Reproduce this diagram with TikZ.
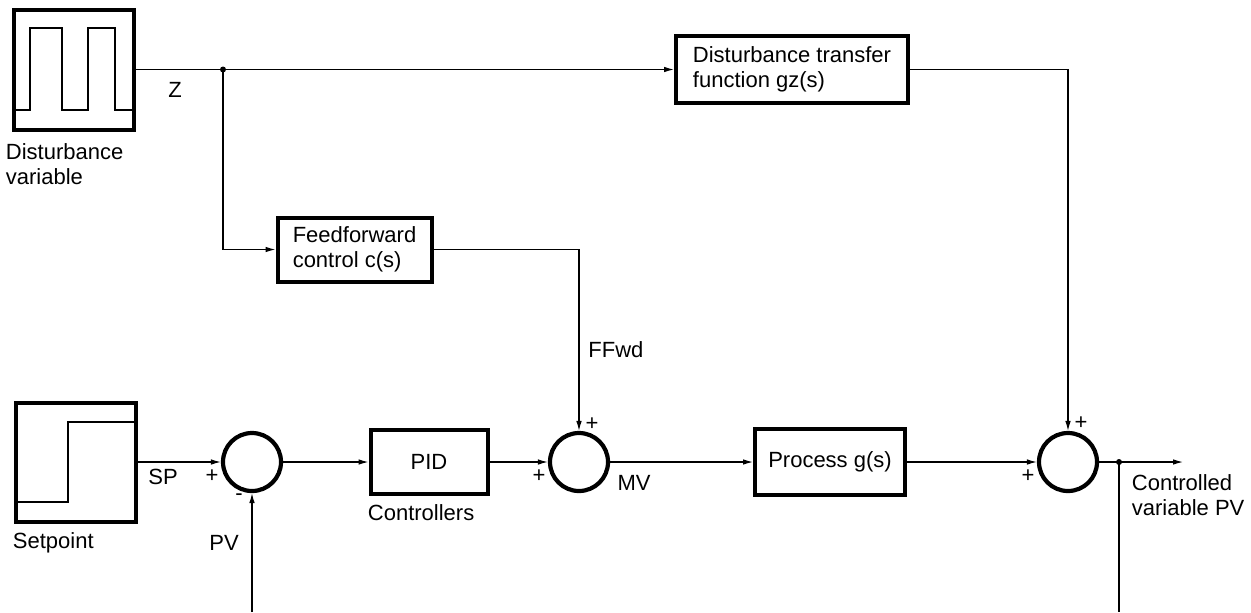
\documentclass[tikz,border=0pt]{standalone}
\usepackage{fontspec}
\setmainfont{Liberation Sans}
\usetikzlibrary{arrows.meta}
\begin{document}
\begin{tikzpicture}[x=0.5pt,y=-0.5pt,
  every node/.style={font=\fontsize{11}{12.5}\selectfont, inner sep=0pt},
  blk/.style={draw, line width=2pt, align=left},
  sumnode/.style={draw, circle, line width=2.1pt, minimum size=29pt},
  conn/.style={line width=0.6pt},
  arr/.style={conn, -{Latex[length=5pt,width=2.8pt]}},
  wave/.style={line width=0.8pt},
  dotnode/.style={circle, fill, minimum size=3pt}
]
\useasboundingbox (0,0) rectangle (1251,612);

% source boxes
\node[blk, minimum width=60pt, minimum height=60pt] (dist) at (73.5,69.5) {};
\node[blk, minimum width=60pt, minimum height=59.5pt] (sp) at (75.5,462) {};
\draw[wave] (13.5,110) -- (30,110) -- (30,28) -- (62,28) -- (62,110) -- (88,110) -- (88,28) -- (115,28) -- (115,110) -- (133.5,110);
\draw[wave] (15.5,502) -- (68,502) -- (68,422) -- (135.5,422);

% blocks
\node[blk, minimum width=116pt, minimum height=33.5pt] (gz) at (792,69.5) {Disturbance transfer\\function gz(s)};
\node[blk, minimum width=77pt, minimum height=32pt] (ff) at (354.5,249.5) {Feedforward\\control c(s)};
\node[blk, minimum width=58.5pt, minimum height=32pt] (pid) at (429,462) {PID};
\node[blk, minimum width=75pt, minimum height=33pt] (proc) at (830,462) {Process g(s)};

% summing junctions
\node[sumnode] (s1) at (252,462) {};
\node[sumnode] (s2) at (579,462) {};
\node[sumnode] (s3) at (1068,462) {};

% junction dots and free ends
\node[dotnode] (j1) at (223,69.5) {};
\node[dotnode] (j2) at (1119,462) {};
\coordinate (out) at (1183,462);
\coordinate (b1) at (252,612);
\coordinate (b2) at (1119,612);

% connectors
\draw[conn] (dist.east) -- (j1.center);
\draw[arr] (j1.center) -- (gz.west);
\draw[arr] (j1.center) |- (ff.west);
\draw[arr] (gz.east) -| (s3.north);
\draw[arr] (ff.east) -| (s2.north);
\draw[arr] (sp.east) -- (s1.west);
\draw[arr] (s1.east) -- (pid.west);
\draw[arr] (pid.east) -- (s2.west);
\draw[arr] (s2.east) -- (proc.west);
\draw[arr] (proc.east) -- (s3.west);
\draw[arr] (s3.east) -- (out);
\draw[conn] (j2.center) -- (b2);
\draw[arr] (b1) -- (s1.south);

% labels
\node (lz) at (175,90) {Z};
\node[anchor=west, align=left] (ldist) at (5.5,164.5) {Disturbance\\variable};
\node (lsp) at (163,477) {SP};
\node (p1) at (212,476) {+};
\node (m1) at (239,497) {-};
\node (lpv) at (224,543) {PV};
\node[anchor=west] (lset) at (12.5,543) {Setpoint};
\node[anchor=west] (lctl) at (367.5,513) {Controllers};
\node (p2t) at (592,424) {+};
\node (p2l) at (539,476) {+};
\node (lmv) at (634,483) {MV};
\node[anchor=west] (lff) at (588,350) {FFwd};
\node (p3t) at (1081,423) {+};
\node (p3l) at (1028,476) {+};
\node[anchor=west, align=left] (lout) at (1131.5,495.5) {Controlled\\variable PV};
\end{tikzpicture}
\end{document}
